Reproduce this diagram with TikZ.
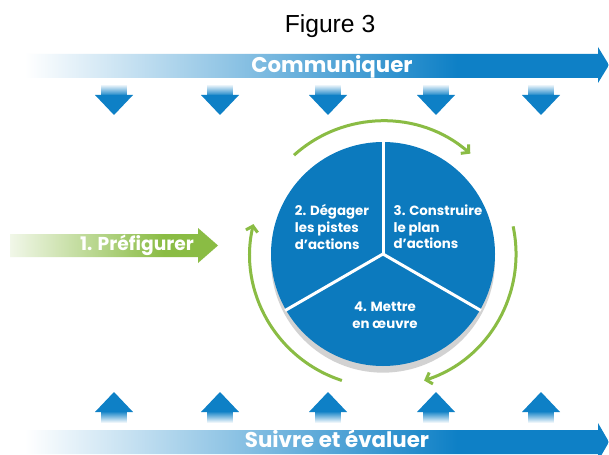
\documentclass[tikz,border=0pt]{standalone}
\usepackage{fontspec}
\setmainfont{Liberation Sans}
\newfontfamily\roundfont{Poppins}
\usetikzlibrary{arrows.meta,shadows}

\definecolor{barblue}{RGB}{14,128,198}
\definecolor{discblue}{RGB}{12,122,190}
\definecolor{leafgreen}{RGB}{138,188,68}
\pgfdeclarehorizontalshading{bluefade}{100bp}{color(0bp)=(white); color(25bp)=(white);
  color(42bp)=(barblue!45); color(62bp)=(barblue); color(100bp)=(barblue)}
\pgfdeclarehorizontalshading{greenfade}{100bp}{color(0bp)=(leafgreen!12); color(25bp)=(leafgreen!12);
  color(62bp)=(leafgreen); color(100bp)=(leafgreen)}

\begin{document}
\begin{tikzpicture}[x=0.75pt,y=0.75pt,
    bandlabel/.style={text=white,font=\roundfont\bfseries\fontsize{16}{19}\selectfont},
    disclabel/.style={text=white,align=left,font=\roundfont\bfseries\fontsize{10}{12.5}\selectfont},
    turnarrow/.style={leafgreen,line width=2.25pt,-{Straight Barb[length=4pt,width=9pt]}}]
    \useasboundingbox (0,0) rectangle (609,454);
    \clip (0,0) rectangle (609,454);
    \fill[white] (0,0) rectangle (609,454);

    \node[anchor=base,font=\fontsize{18.5}{22}\selectfont] (title) at (330,421) {Figure 3};

    % band across the top, with arrows pointing down
    \shade[shading=bluefade] (25,376) -- (598,376) -- (598,371) -- (609,389)
        -- (598,407) -- (598,400) -- (25,400) -- cycle;
    \node[bandlabel,anchor=base] (comm) at (332,381) {Communiquer};
    \foreach \x in {114,220,328,436,541} {
        \shade[top color=white,bottom color=barblue] (\x-12.5,370) rectangle (\x+12.5,358);
        \fill[barblue] (\x-19,359) -- (\x+19,359) -- (\x,339) -- cycle;
    }

    % band across the bottom, with arrows pointing up
    \shade[shading=bluefade] (25,0) -- (598,0) -- (598,-7) -- (609,12)
        -- (598,31) -- (598,24) -- (25,24) -- cycle;
    \node[bandlabel,anchor=base,inner sep=1pt] (suivi) at (337,7) {Suivre et évaluer};
    \foreach \x in {114,220,328,436,541} {
        \shade[top color=barblue,bottom color=white] (\x-12.5,43) rectangle (\x+12.5,31);
        \fill[barblue] (\x-19,42) -- (\x+19,42) -- (\x,62) -- cycle;
    }

    % entry arrow
    \shade[shading=greenfade] (10,197) -- (198,197) -- (198,191) -- (218,208.5)
        -- (198,226) -- (198,220) -- (10,220) -- cycle;
    \node[bandlabel,font=\roundfont\bfseries\fontsize{14}{17}\selectfont]
        (prefig) at (137,208.5) {1. Préfigurer};

    % the disc and its three sectors
    \coordinate (hub) at (383,200);
    \fill[discblue,drop shadow={opacity=0.35,shadow xshift=0pt,shadow yshift=-5pt}]
        (hub) circle (112);
    \draw[white,line width=2.25pt] (hub) -- ++(90:113);
    \draw[white,line width=2.25pt] (hub) -- ++(210:113);
    \draw[white,line width=2.25pt] (hub) -- ++(330:113);
    \node[disclabel] (pistes) at (332,227) {2. Dégager\\les pistes\\d’actions};
    \node[disclabel] (plan) at (438,227) {3. Construire\\le plan\\d’actions};
    \node[disclabel,align=center] (oeuvre) at (385,139) {4. Mettre\\en œuvre};

    % green cycle around the disc
    \draw[turnarrow] ([shift={(132:133)}]hub) arc (132:49:133);
    \draw[turnarrow] ([shift={(12:133)}]hub) arc (12:-72:133);
    \draw[turnarrow] ([shift={(252:133)}]hub) arc (252:167:133);
\end{tikzpicture}
\end{document}
